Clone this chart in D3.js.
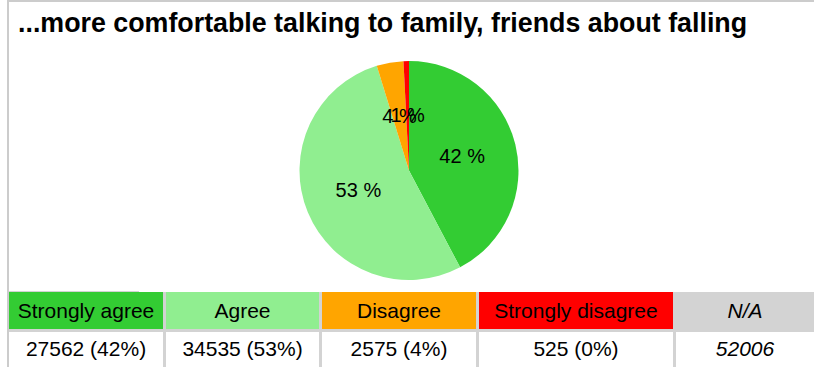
<!DOCTYPE html>
<html>
<head>
<meta charset="utf-8">
<script src="https://cdn.jsdelivr.net/npm/d3@7"></script>
<style>
    body { margin: 0; background: #fff; }
    text { font-family: Arial, 'Liberation Sans', sans-serif; }
</style>
</head>
<body>
<div id="chart"></div>
<script>
var title       = '...more comfortable talking to family, friends about falling';
var categories  = ['Strongly agree', 'Agree', 'Disagree', 'Strongly disagree'];
var counts      = [27562, 34535, 2575, 525];
var table_pcts  = [42, 53, 4, 0];
var colors      = ['#33cc33', '#90ee90', '#ffa500', '#ff0000'];
var na_label    = 'N/A';
var na_count    = 52006;

var data = categories.map(function(c, i){
    return {cat: c, num: counts[i], pct: table_pcts[i], color: colors[i]};
});

// Create SVG Element
var chart_width     =   814;
var chart_height    =   367;
var svg             =   d3.select( '#chart' )
    .append( 'svg' )
    .attr( 'width', chart_width )
    .attr( 'height', chart_height );

// frame
svg.append('rect')
    .attr('x', 7).attr('y', 0)
    .attr('width', 2).attr('height', chart_height)
    .attr('fill', '#cccccc');
svg.append('rect')
    .attr('x', 7).attr('y', 0)
    .attr('width', chart_width - 7).attr('height', 2)
    .attr('fill', '#cccccc');

// title
svg.append('text')
    .attr('x', 18)
    .attr('y', 32)
    .attr('font-size', 26.8)
    .attr('font-weight', 'bold')
    .attr('fill', '#000')
    .text(title);

// pie
var cx = 409, cy = 170.5, radius = 109.5;
var total = d3.sum(counts);
var pie = d3.pie()
    .sort(null)
    .value(function(d){ return d.num; });
var arc = d3.arc()
    .innerRadius(0)
    .outerRadius(radius);
var label_arc = d3.arc()
    .innerRadius(radius * 0.5)
    .outerRadius(radius * 0.5);

var pie_g = svg.append('g')
    .attr('transform', 'translate(' + cx + ',' + cy + ')');

pie_g.selectAll('path')
    .data(pie(data))
    .enter()
    .append('path')
    .attr('d', arc)
    .attr('fill', function(d){ return d.data.color; });

// labels sit half way out, the two small slices overlap like the original
pie_g.selectAll('text')
    .data(pie(data))
    .enter()
    .append('text')
    .attr('transform', function(d){
        var c = label_arc.centroid(d);
        return 'translate(' + c[0] + ',' + c[1] + ')';
    })
    .attr('dy', '0.3em')
    .attr('text-anchor', 'middle')
    .attr('font-size', 20)
    .attr('fill', '#000')
    .text(function(d){
        return Math.round(d.data.num / total * 100) + ' %';
    });

// table below the pie
var col_edges = [9, 166, 322, 479, 676, 814];
var col_keys  = categories.concat([na_label]);
var x_scale = d3.scaleOrdinal()
    .domain(col_keys)
    .range(col_edges);
var col_x = function(k){ return x_scale(k); };
var col_w = function(k){
    var i = col_keys.indexOf(k);
    return col_edges[i + 1] - col_edges[i] - (i < col_keys.length - 1 ? 3 : 0);
};
var head_y = 292, head_h = 37, row_y = 332;

// grey background fills the gaps between the cells
svg.append('rect')
    .attr('x', 9).attr('y', head_y)
    .attr('width', chart_width - 9).attr('height', chart_height - head_y)
    .attr('fill', '#d3d3d3');
svg.append('rect')
    .attr('x', 9).attr('y', head_y - 1)
    .attr('width', 130).attr('height', 1)
    .attr('fill', '#d3d3d3');

var rows = data.map(function(d){
    return {key: d.cat, color: d.color, head: d.cat,
        value: d.num + ' (' + d.pct + '%)', italic: false};
});
rows.push({key: na_label, color: '#d3d3d3', head: na_label,
    value: String(na_count), italic: true});

var cells = svg.selectAll('g.cell')
    .data(rows)
    .enter()
    .append('g')
    .attr('class', 'cell');

cells.append('rect')
    .attr('x', function(d){ return col_x(d.key); })
    .attr('y', head_y)
    .attr('width', function(d){ return col_w(d.key); })
    .attr('height', head_h)
    .attr('fill', function(d){ return d.color; });

cells.append('rect')
    .attr('x', function(d){ return col_x(d.key); })
    .attr('y', row_y)
    .attr('width', function(d){ return col_w(d.key); })
    .attr('height', chart_height - row_y)
    .attr('fill', '#ffffff');

cells.append('text')
    .attr('x', function(d){ return col_x(d.key) + col_w(d.key) / 2; })
    .attr('y', head_y + head_h / 2)
    .attr('dy', '0.35em')
    .attr('text-anchor', 'middle')
    .attr('font-size', 21)
    .attr('font-style', function(d){ return d.italic ? 'italic' : 'normal'; })
    .attr('fill', '#000')
    .text(function(d){ return d.head; });

cells.append('text')
    .attr('x', function(d){ return col_x(d.key) + col_w(d.key) / 2; })
    .attr('y', 349)
    .attr('dy', '0.35em')
    .attr('text-anchor', 'middle')
    .attr('font-size', 21)
    .attr('font-style', function(d){ return d.italic ? 'italic' : 'normal'; })
    .attr('fill', '#000')
    .text(function(d){ return d.value; });
</script>
</body>
</html>
